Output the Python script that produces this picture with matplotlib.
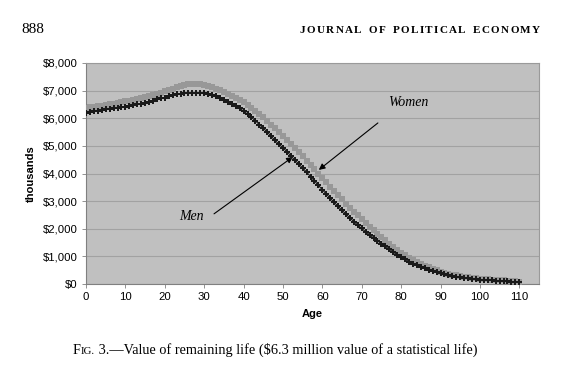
import matplotlib
matplotlib.use("Agg")
import matplotlib.pyplot as plt
from matplotlib.ticker import FuncFormatter
from matplotlib.font_manager import FontProperties

# value of remaining life, thousands of dollars, by age 0..110
ages = list(range(0, 111))
men = [6180, 6210, 6250, 6280, 6300, 6320, 6340, 6360, 6380, 6400,
       6420, 6440, 6470, 6500, 6530, 6560, 6600, 6640, 6680, 6720,
       6750, 6790, 6830, 6860, 6890, 6910, 6920, 6930, 6930, 6930,
       6920, 6890, 6850, 6790, 6720, 6650, 6580, 6510, 6440, 6360,
       6260, 6150, 6030, 5910, 5770, 5640, 5500, 5350, 5200, 5060,
       4930, 4790, 4640, 4490, 4350, 4200, 4050, 3890, 3730, 3570,
       3410, 3260, 3100, 2960, 2810, 2670, 2530, 2390, 2260, 2130,
       2010, 1890, 1780, 1670, 1560, 1460, 1360, 1260, 1150, 1060,
       970, 890, 810, 740, 680, 620, 570, 520, 470, 430,
       390, 350, 320, 290, 270, 240, 220, 200, 190, 170,
       160, 150, 140, 130, 120, 120, 110, 100, 90, 80,
       70]
women = [6360, 6390, 6410, 6430, 6450, 6480, 6500, 6530, 6560, 6580,
         6610, 6640, 6670, 6710, 6740, 6780, 6810, 6850, 6890, 6930,
         6970, 7020, 7070, 7120, 7170, 7210, 7240, 7250, 7250, 7240,
         7220, 7180, 7130, 7070, 7010, 6950, 6880, 6810, 6740, 6670,
         6590, 6490, 6380, 6270, 6150, 6030, 5900, 5770, 5630, 5500,
         5370, 5230, 5080, 4930, 4780, 4630, 4470, 4310, 4150, 4000,
         3840, 3680, 3520, 3370, 3210, 3060, 2910, 2760, 2620, 2480,
         2340, 2210, 2080, 1950, 1820, 1700, 1580, 1460, 1350, 1240,
         1130, 1040, 950, 870, 790, 720, 660, 600, 540, 490,
         450, 410, 370, 340, 310, 280, 260, 240, 220, 200,
         190, 180, 170, 160, 150, 140, 130, 120, 110, 100,
         80]
x_ticks = list(range(0, 111, 10))
y_ticks = list(range(0, 8001, 1000))

serif = ["Liberation Serif", "DejaVu Serif"]
sans = ["Liberation Sans", "DejaVu Sans"]

fig = plt.figure(figsize=(5.69, 3.72), dpi=100)
W, H = 569.0, 372.0
ax = fig.add_axes([86 / W, 1 - 284 / H, 453 / W, 221 / H])
ax.set_facecolor("#c0c0c0")

ax.plot(ages, women, color="#989898", lw=1.0, marker="s", ms=3.8,
        markeredgewidth=0, zorder=3)
ax.plot(ages, men, color="#1a1a1a", lw=0.8, marker="P", ms=4.0,
        markeredgewidth=0, zorder=4)

ax.set_xlim(0, 115)
ax.set_ylim(0, 8000)
ax.set_xticks(x_ticks)
ax.set_yticks(y_ticks)
ax.yaxis.set_major_formatter(FuncFormatter(lambda v, p: "${:,.0f}".format(v)))
ax.grid(axis="y", color="#a2a2a2", lw=0.8)
ax.set_axisbelow(True)
for s in ax.spines.values():
    s.set_color("#9a9a9a")
    s.set_linewidth(0.8)
ax.spines["left"].set_color("#808080")
ax.spines["bottom"].set_color("#808080")
ax.tick_params(axis="both", labelsize=8.2, length=3, width=0.6, color="#808080",
               pad=3)
for lab in ax.get_xticklabels() + ax.get_yticklabels():
    lab.set_family(sans)
ax.set_xlabel("Age", fontsize=8, fontweight="bold", family=sans, labelpad=5)
ax.set_ylabel("thousands", fontsize=8, fontweight="bold", family=sans, labelpad=5)

# annotations
ax.annotate("", xy=(59.1, 4130), xytext=(74.1, 5830),
            arrowprops=dict(arrowstyle="-|>", color="black", lw=0.8,
                            mutation_scale=9, shrinkA=0, shrinkB=0))
ax.annotate("", xy=(52.5, 4600), xytext=(32.5, 2540),
            arrowprops=dict(arrowstyle="-|>", color="black", lw=0.8,
                            mutation_scale=9, shrinkA=0, shrinkB=0))
ax.text(81.7, 6560, "Women", fontsize=10, style="italic", family=serif,
        ha="center", va="center")
ax.text(26.9, 2430, "Men", fontsize=10, style="italic", family=serif,
        ha="center", va="center")

renderer = fig.canvas.get_renderer()

# page header
fig.text(21 / W, 1 - 33 / H, "888", fontsize=11, family=serif, va="baseline")

# letter-spaced running head
head = "JOURNAL OF POLITICAL ECONOMY"
head_prop = FontProperties(family=serif, size=8, weight="semibold")
words = head.split(" ")
x0, x1 = 300.0, 540.0
char_w = [[renderer.get_text_width_height_descent(c, head_prop, ismath=False)[0]
           for c in wd] for wd in words]
n_gaps = sum(len(wd) - 1 for wd in words)
word_gap = 7.0
track = (x1 - x0 - sum(sum(cw) for cw in char_w) - word_gap * (len(words) - 1)) / n_gaps
x = x0
for wd, cw in zip(words, char_w):
    for c, w in zip(wd, cw):
        fig.text(x / W, 1 - 33 / H, c, fontproperties=head_prop, va="baseline")
        x += w + track
    x += word_gap - track

# caption with small-caps "Fig."
cy = 1 - 354 / H
t1 = fig.text(73 / W, cy, "F", fontsize=10.3, family=serif, va="baseline")
bb = t1.get_window_extent(renderer)
t2 = fig.text(bb.x1 / W, cy, "IG.", fontsize=7.8, family=serif, va="baseline")
bb = t2.get_window_extent(renderer)
fig.text(bb.x1 / W, cy,
         " 3.\u2014Value of remaining life ($6.3 million value of a statistical life)",
         fontsize=10.3, family=serif, va="baseline")

fig.savefig("out.png", dpi=100)
